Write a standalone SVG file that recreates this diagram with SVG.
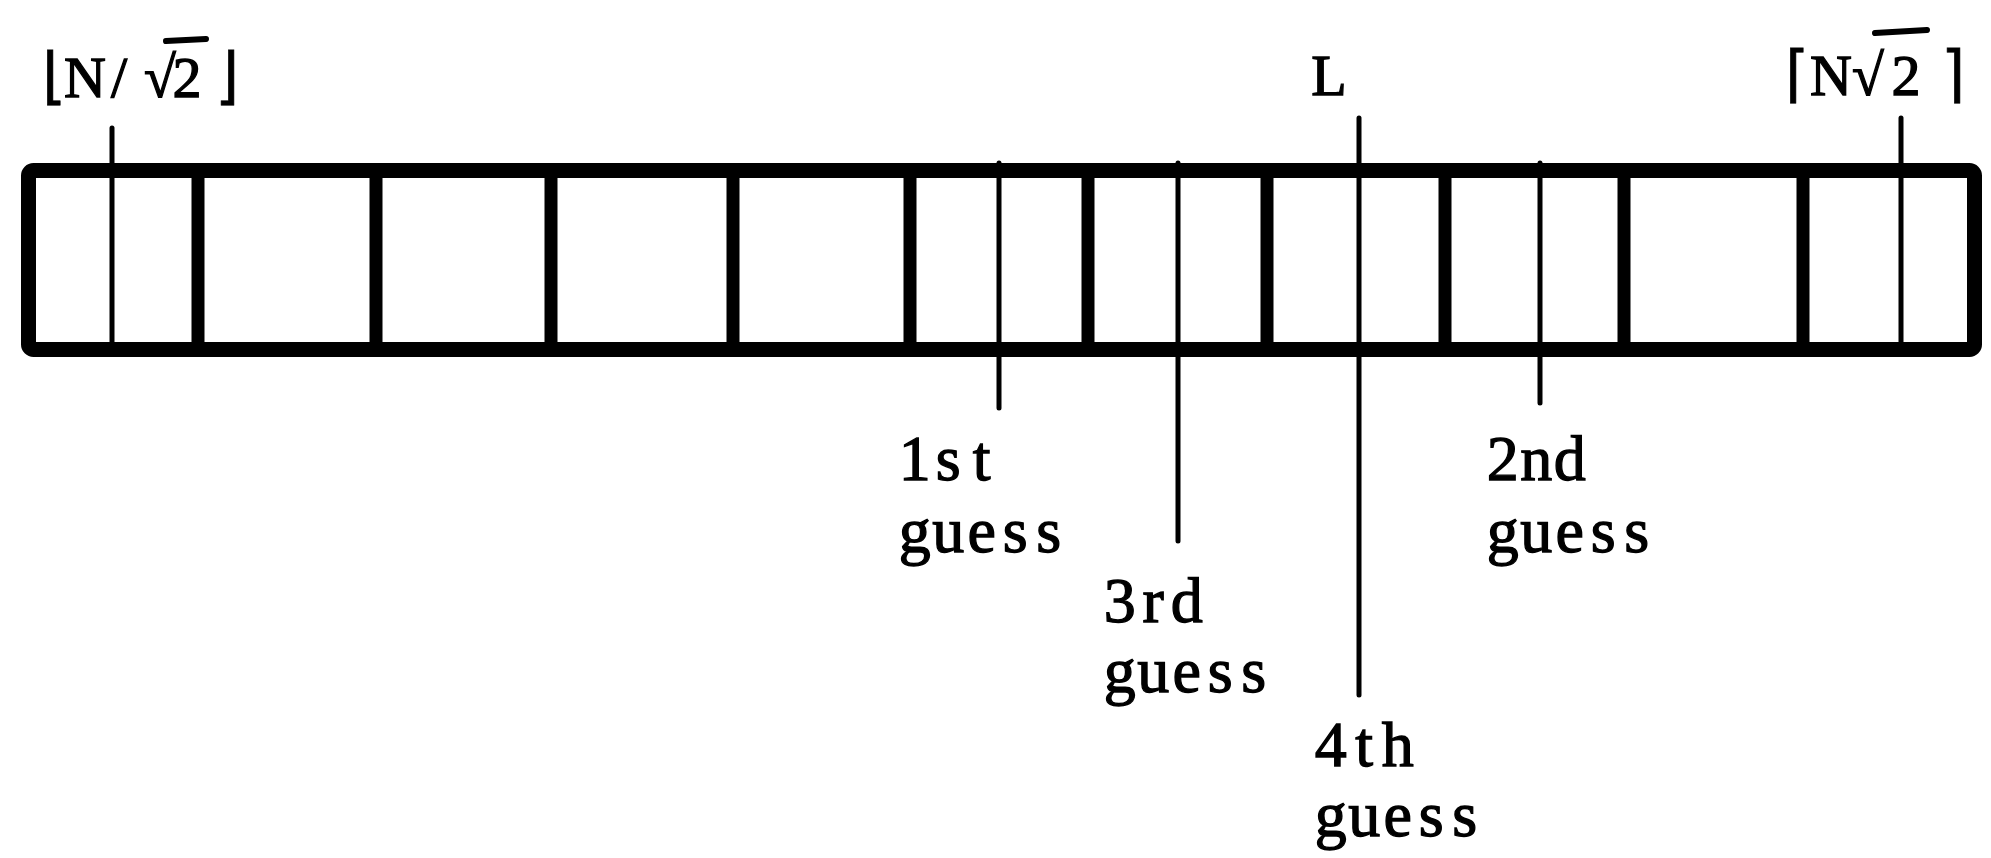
<svg xmlns="http://www.w3.org/2000/svg" width="1991" height="858" viewBox="0 0 1991 858">
<style>
.t{font-family:"Liberation Serif","DejaVu Serif",serif;font-size:64px;fill:#000;stroke:#000;stroke-width:1.3;text-anchor:middle}
.h{font-size:58px}
.b{font-family:"DejaVu Sans","Liberation Sans",sans-serif;font-size:62px;stroke-width:0.6}
.r{font-weight:bold}
.div{stroke:#000;stroke-width:13}
.mk{stroke:#000;stroke-width:5;stroke-linecap:round}
.vin{stroke:#000;stroke-width:6;stroke-linecap:round}
</style>
<rect width="1991" height="858" fill="#fff"/>
<g id="array">
<rect x="28.5" y="170.5" width="1946" height="179" rx="5" fill="none" stroke="#000" stroke-width="15"/>
<g class="div">
<line x1="198" y1="170" x2="198" y2="350"/>
<line x1="376" y1="170" x2="376" y2="350"/>
<line x1="551" y1="170" x2="551" y2="350"/>
<line x1="733" y1="170" x2="733" y2="350"/>
<line x1="910" y1="170" x2="910" y2="350"/>
<line x1="1088" y1="170" x2="1088" y2="350"/>
<line x1="1267" y1="170" x2="1267" y2="350"/>
<line x1="1445" y1="170" x2="1445" y2="350"/>
<line x1="1624" y1="170" x2="1624" y2="350"/>
<line x1="1803" y1="170" x2="1803" y2="350"/>
</g>
</g>
<g id="connectors" class="mk">
<line x1="112" y1="128" x2="112" y2="342"/>
<line x1="999" y1="163" x2="999" y2="408"/>
<line x1="1178" y1="163" x2="1178" y2="541"/>
<line x1="1359" y1="118" x2="1359" y2="695"/>
<line x1="1540" y1="163" x2="1540" y2="403"/>
<line x1="1901" y1="118" x2="1901" y2="342"/>
</g>
<g id="label-low">
<text class="t h" y="97"><tspan class="b" x="54">⌊</tspan><tspan x="85">N</tspan><tspan x="119">/</tspan><tspan class="r" x="160">√</tspan><tspan x="187">2</tspan><tspan class="b" x="227">⌋</tspan></text>
<line class="vin" x1="166" y1="41" x2="206" y2="39"/>
</g>
<g id="label-L"><text class="t h" x="1329" y="95">L</text></g>
<g id="label-high">
<text class="t h" y="95"><tspan class="b" x="1797">⌈</tspan><tspan x="1831">N</tspan><tspan class="r" x="1868">√</tspan><tspan x="1906">2</tspan><tspan class="b" x="1953">⌉</tspan></text>
<line class="vin" x1="1875" y1="33" x2="1927" y2="30"/>
</g>
<g id="guess1">
<text class="t" y="480" x="914.7 948.2 981.7">1st</text>
<text class="t" y="552" x="914.7 948.2 981.7 1015.2 1048.7">guess</text>
</g>
<g id="guess2">
<text class="t" y="480" x="1502.7 1536.2 1569.7">2nd</text>
<text class="t" y="552" x="1502.7 1536.2 1569.7 1603.2 1636.7">guess</text>
</g>
<g id="guess3">
<text class="t" y="622" x="1119.7 1153.2 1186.7">3rd</text>
<text class="t" y="692" x="1119.7 1153.2 1186.7 1220.2 1253.7">guess</text>
</g>
<g id="guess4">
<text class="t" y="766" x="1330.7 1364.2 1397.7">4th</text>
<text class="t" y="836" x="1330.7 1364.2 1397.7 1431.2 1464.7">guess</text>
</g>
</svg>
